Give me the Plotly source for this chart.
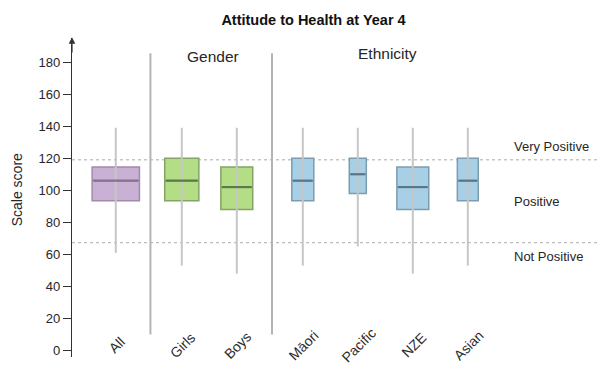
import plotly.graph_objects as go

# Groups and their summary statistics (scale score)
categories = ["All", "Girls", "Boys", "Māori", "Pacific", "NZE", "Asian"]
positions = [0.0, 1.2, 2.2, 3.4, 4.4, 5.4, 6.4]
box_widths = [0.86, 0.62, 0.58, 0.40, 0.31, 0.58, 0.38]
lower_whisker = [61, 53, 48, 53, 65, 48, 53]
q1 = [93.5, 93.5, 88, 93.5, 98, 88, 93.5]
median = [106, 106, 102, 106, 110, 102, 106]
q3 = [114.5, 120, 114.5, 120, 120, 114.5, 120]
upper_whisker = [139, 139, 139, 139, 139, 139, 139]
group = ["all", "gender", "gender", "eth", "eth", "eth", "eth"]

# Band cut points and labels
band_cuts = [119, 67.3]
band_labels = ["Very Positive", "Positive", "Not Positive"]
band_label_y = [127.2, 93, 58.7]

# Group separators and headings
separators = [0.63, 2.84]
headings = ["Gender", "Ethnicity"]
heading_x = [1.76, 4.94]
heading_y = [183.5, 185.5]

fills = {"all": "#c9b1d6", "gender": "#b3de86", "eth": "#a7cfe5"}
edges = {"all": "#a08aaa", "gender": "#83a465", "eth": "#7c9cb0"}
medians = {"all": "#85728c", "gender": "#5f7a48", "eth": "#5a7688"}

FONT = "Liberation Sans, Arial, sans-serif"
X_RANGE = [-0.796, 8.749]
Y_RANGE = [-4, 195]

fig = go.Figure()

# Whiskers (light grey, drawn behind the boxes)
wx, wy = [], []
for p, lo, hi in zip(positions, lower_whisker, upper_whisker):
    wx += [p, p, None]
    wy += [lo, hi, None]
fig.add_trace(go.Scatter(x=wx, y=wy, mode="lines",
                         line=dict(color="#c6c6c6", width=2),
                         hoverinfo="skip", showlegend=False))

# Group separators
sx, sy = [], []
for s in separators:
    sx += [s, s, None]
    sy += [10, 185.5, None]
fig.add_trace(go.Scatter(x=sx, y=sy, mode="lines",
                         line=dict(color="#b4b4b4", width=2),
                         hoverinfo="skip", showlegend=False))

# Boxes
for name, p, w, a, m, b, g in zip(categories, positions, box_widths,
                                   q1, median, q3, group):
    fig.add_trace(go.Box(
        x=[p], q1=[a], median=[m], q3=[b],
        lowerfence=[a], upperfence=[b],
        width=w, whiskerwidth=0,
        fillcolor=fills[g],
        line=dict(color=edges[g], width=1.5),
        name=name, showlegend=False, boxpoints=False,
    ))

# Darker median bars on top of each box
for p, w, m, g in zip(positions, box_widths, median, group):
    fig.add_trace(go.Scatter(x=[p - w / 2 + 0.02, p + w / 2 - 0.02], y=[m, m],
                             mode="lines",
                             line=dict(color=medians[g], width=2.2),
                             hoverinfo="skip", showlegend=False))

shapes = []
for c in band_cuts:
    shapes.append(dict(type="line", xref="paper", x0=0, x1=1, yref="y",
                       y0=c, y1=c, layer="below",
                       line=dict(color="#ababab", width=1, dash="dot")))

annotations = []
for txt, yy in zip(band_labels, band_label_y):
    annotations.append(dict(x=7.2, y=yy, xref="x", yref="y", text=txt,
                            showarrow=False, xanchor="left", yanchor="middle",
                            font=dict(family=FONT, size=13, color="#262626")))
for txt, xx, yy in zip(headings, heading_x, heading_y):
    annotations.append(dict(x=xx, y=yy, xref="x", yref="y", text=txt,
                            showarrow=False, xanchor="center", yanchor="middle",
                            font=dict(family=FONT, size=15.5, color="#262626")))
# Rotated category labels
for txt, p in zip(categories, positions):
    annotations.append(dict(x=p + 0.02, y=3.5, xref="x", yref="y", text=txt,
                            showarrow=False, textangle=-45,
                            xanchor="center", yanchor="middle",
                            font=dict(family=FONT, size=14, color="#2b2b2b")))
# Axis title
annotations.append(dict(x=-0.796, y=100, xref="x", yref="y", text="Scale score",
                        showarrow=False, textangle=-90, xshift=-55,
                        xanchor="center", yanchor="middle",
                        font=dict(family=FONT, size=14, color="#262626")))
# Arrow head on the y axis
annotations.append(dict(x=X_RANGE[0], y=Y_RANGE[1] + 0.5, ax=X_RANGE[0], ay=185,
                        xref="x", yref="y", axref="x", ayref="y", text="",
                        showarrow=True, arrowhead=2, arrowsize=1.1,
                        arrowwidth=1.2, arrowcolor="#333333"))

fig.update_layout(
    width=597, height=382,
    margin=dict(l=72, r=0, t=38, b=24.6),
    paper_bgcolor="white", plot_bgcolor="white",
    boxmode="overlay",
    title=dict(text="<b>Attitude to Health at Year 4</b>",
               x=313.5 / 597, xanchor="center", xref="container",
               y=(382 - 20) / 382, yanchor="middle", yref="container",
               font=dict(family=FONT, size=14.5, color="#111111")),
    shapes=shapes,
    annotations=annotations,
    showlegend=False,
)
fig.update_xaxes(range=X_RANGE, showgrid=False, zeroline=False,
                 showticklabels=False, ticks="", showline=False)
fig.update_yaxes(range=Y_RANGE, tickvals=list(range(0, 181, 20)),
                 showgrid=False, zeroline=False, showline=True,
                 linecolor="#333333", linewidth=1.2,
                 ticks="outside", ticklen=8, tickcolor="#333333", tickwidth=1,
                 tickfont=dict(family=FONT, size=13, color="#262626"))

fig.write_html("out.html")
